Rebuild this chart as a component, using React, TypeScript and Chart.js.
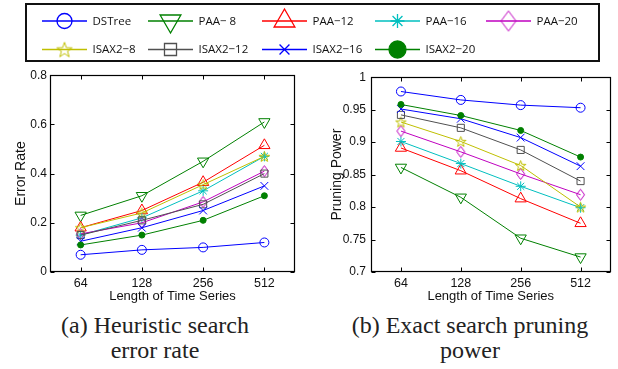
import React, { useEffect, useRef } from 'react';
import { Chart, registerables, PointElement } from 'chart.js';

Chart.register(...registerables);

// ---------- data ----------
const lengths = ['64', '128', '256', '512'];
const seriesNames = ['DSTree', 'PAA\u2212 8', 'PAA\u221212', 'PAA\u221216', 'PAA\u221220', 'ISAX2\u22128', 'ISAX2\u221212', 'ISAX2\u221216', 'ISAX2\u221220'];

// (a) Heuristic search error rate
const errDSTree = [0.07, 0.09, 0.10, 0.12];
const errPAA8 = [0.23, 0.31, 0.45, 0.61];
const errPAA12 = [0.18, 0.25, 0.365, 0.515];
const errPAA16 = [0.15, 0.22, 0.33, 0.47];
const errPAA20 = [0.155, 0.20, 0.285, 0.41];
const errISAX8 = [0.18, 0.24, 0.355, 0.47];
const errISAX12 = [0.15, 0.21, 0.275, 0.40];
const errISAX16 = [0.125, 0.18, 0.25, 0.35];
const errISAX20 = [0.11, 0.15, 0.21, 0.31];

// (b) Exact search pruning power
const prDSTree = [0.978, 0.965, 0.957, 0.953];
const prPAA8 = [0.861, 0.815, 0.752, 0.723];
const prPAA12 = [0.891, 0.856, 0.813, 0.775];
const prPAA16 = [0.901, 0.867, 0.832, 0.799];
const prPAA20 = [0.917, 0.885, 0.851, 0.819];
const prISAX8 = [0.931, 0.901, 0.864, 0.800];
const prISAX12 = [0.942, 0.922, 0.888, 0.840];
const prISAX16 = [0.951, 0.936, 0.907, 0.863];
const prISAX20 = [0.958, 0.941, 0.918, 0.877];

const errTicks = [0, 0.2, 0.4, 0.6, 0.8];
const errTickLabels = ['0', '0.2', '0.4', '0.6', '0.8'];
const prTicks = [0.7, 0.75, 0.8, 0.85, 0.9, 0.95, 1];
const prTickLabels = ['0.7', '0.75', '0.8', '0.85', '0.9', '0.95', '1'];

const errorRate = [errDSTree, errPAA8, errPAA12, errPAA16, errPAA20, errISAX8, errISAX12, errISAX16, errISAX20];
const pruning = [prDSTree, prPAA8, prPAA12, prPAA16, prPAA20, prISAX8, prISAX12, prISAX16, prISAX20];

// ---------- styles ----------
const colors = ['#0000FF', '#008000', '#FF0000', '#00BFBF', '#BF00BF', '#BFBF00', '#505050', '#0000FF', '#008000'];
const plotMarkers: any[] = [
  { style: 'circle', r: 4.5 },
  { style: 'triangle', r: 6.5, rot: 180 },
  { style: 'triangle', r: 6.5 },
  { style: 'star', r: 5 },
  { style: 'diamond', w: 8, h: 11 },
  { style: 'pentagram', r: 5.5 },
  { style: 'rect', r: 5 },
  { style: 'crossRot', r: 5.5 },
  { style: 'circle', r: 3, filled: true },
];
const legendMarkers: any[] = [
  { style: 'circle', r: 7.5 },
  { style: 'triangle', r: 12, rot: 180 },
  { style: 'triangle', r: 12 },
  { style: 'star', r: 7 },
  { style: 'diamond', w: 15, h: 20 },
  { style: 'pentagram', r: 8 },
  { style: 'rect', r: 8.5 },
  { style: 'crossRot', r: 7 },
  { style: 'circle', r: 8.5, filled: true },
];

const FONT = "'Liberation Sans', Arial, Helvetica, sans-serif";
const LEGEND_FONT = "'Open Sans', 'Noto Sans', sans-serif";
const TEXT = '#111';

function pentagramCanvas(R: number, color: string) {
  const s = Math.ceil(2 * R + 4);
  const c = document.createElement('canvas');
  c.width = s; c.height = s;
  const ctx = c.getContext('2d')!;
  ctx.strokeStyle = color; ctx.lineWidth = 1;
  ctx.beginPath();
  for (let i = 0; i < 10; i++) {
    const rad = i % 2 === 0 ? R : R * 0.4;
    const a = -Math.PI / 2 + (i * Math.PI) / 5;
    const x = s / 2 + rad * Math.cos(a);
    const y = s / 2 + rad * Math.sin(a) + R * 0.1;
    if (i === 0) ctx.moveTo(x, y); else ctx.lineTo(x, y);
  }
  ctx.closePath();
  ctx.stroke();
  return c;
}

function diamondCanvas(w: number, h: number, color: string) {
  const c = document.createElement('canvas');
  c.width = w + 3; c.height = h + 3;
  const ctx = c.getContext('2d')!;
  const cx = c.width / 2, cy = c.height / 2;
  ctx.strokeStyle = color; ctx.lineWidth = 1;
  ctx.beginPath();
  ctx.moveTo(cx, cy - h / 2);
  ctx.lineTo(cx + w / 2, cy);
  ctx.lineTo(cx, cy + h / 2);
  ctx.lineTo(cx - w / 2, cy);
  ctx.closePath();
  ctx.stroke();
  return c;
}

function markerOptions(m: any, color: string) {
  let pointStyle: any = m.style;
  let radius = m.r || 5;
  if (m.style === 'pentagram') pointStyle = pentagramCanvas(m.r, color);
  if (m.style === 'diamond') { pointStyle = diamondCanvas(m.w, m.h, color); radius = m.h / 2; }
  return {
    pointStyle,
    radius,
    rotation: m.rot || 0,
    borderWidth: 1,
    borderColor: color,
    backgroundColor: m.filled ? color : 'rgba(0,0,0,0)',
  };
}

function makeDataset(i: number, values: number[] | null) {
  const color = colors[i];
  const pm = markerOptions(plotMarkers[i], color);
  return {
    label: seriesNames[i],
    data: values ? values : [],
    borderColor: color,
    backgroundColor: pm.backgroundColor,
    borderWidth: 1,
    tension: 0,
    order: seriesNames.length - 1 - i,
    pointStyle: pm.pointStyle,
    pointRadius: pm.radius,
    pointRotation: pm.rotation,
    pointBorderWidth: 1,
    pointBorderColor: color,
    pointBackgroundColor: pm.backgroundColor,
    legendMarker: markerOptions(legendMarkers[i], color),
  };
}

const framePlugin = {
  id: 'matlabFrame',
  afterDatasetsDraw(chart: any) {
    const { ctx, chartArea } = chart;
    const L = Math.round(chartArea.left) + 0.5;
    const R = Math.round(chartArea.right) - 0.5;
    const T = Math.round(chartArea.top) + 0.5;
    const B = Math.round(chartArea.bottom) - 0.5;
    ctx.save();
    ctx.strokeStyle = '#000';
    ctx.lineWidth = 1.2;
    ctx.strokeRect(L, T, R - L, B - T);
    ctx.lineWidth = 1;
    const seg = (x1: number, y1: number, x2: number, y2: number) => {
      ctx.beginPath(); ctx.moveTo(x1, y1); ctx.lineTo(x2, y2); ctx.stroke();
    };
    const xs = chart.scales.x;
    xs.ticks.forEach((_t: any, i: number) => {
      const px = Math.round(xs.getPixelForTick(i)) + 0.5;
      seg(px, B, px, B - 4);
      seg(px, T, px, T + 4);
    });
    const ys = chart.scales.y;
    ys.ticks.forEach((t: any) => {
      const py = Math.round(ys.getPixelForValue(t.value)) + 0.5;
      seg(L, py, L + 4, py);
      seg(R, py, R - 4, py);
    });
    ctx.restore();
  },
};

const LEGEND_COLS = [42, 148, 262, 375, 486];
const LEGEND_ROWS = [21, 49.5];
const legendPlugin = {
  id: 'figLegend',
  afterDraw(chart: any) {
    const ctx = chart.ctx;
    const area = { left: 0, top: 0, right: chart.width, bottom: chart.height };
    ctx.save();
    ctx.fillStyle = '#fff';
    ctx.fillRect(26, 4, 573, 57);
    ctx.strokeStyle = '#111';
    ctx.lineWidth = 2;
    ctx.strokeRect(26, 4, 573, 57);
    chart.data.datasets.forEach((ds: any, i: number) => {
      const row = i < 5 ? 0 : 1;
      const col = i < 5 ? i : i - 5;
      const x0 = LEGEND_COLS[col];
      const y = LEGEND_ROWS[row];
      ctx.strokeStyle = ds.borderColor;
      ctx.lineWidth = 1.5;
      ctx.beginPath(); ctx.moveTo(x0, y); ctx.lineTo(x0 + 45, y); ctx.stroke();
      const pt: any = new PointElement({ x: x0 + 22.5, y, options: { ...ds.legendMarker, borderWidth: 1.3 } } as any);
      pt.draw(ctx, area);
      ctx.fillStyle = TEXT;
      ctx.font = `11.5px ${LEGEND_FONT}`;
      ctx.textBaseline = 'middle';
      ctx.textAlign = 'left';
      ctx.fillText(ds.label, x0 + 50.5, y + 0.5);
    });
    ctx.restore();
  },
};

function buildChart(canvas: HTMLCanvasElement, values: number[][], yTicks: number[], yTickLabels: string[], yTitle: string, cfg: any) {
  return new Chart(canvas, {
    type: 'line',
    data: { labels: lengths, datasets: values.map((v, i) => makeDataset(i, v)) as any },
    options: {
      responsive: false,
      animation: false,
      layout: { padding: cfg.padding },
      plugins: { legend: { display: false }, tooltip: { enabled: false }, title: { display: false } },
      scales: {
        x: {
          type: 'category',
          offset: true,
          grid: { display: false, drawTicks: false, tickLength: 0 },
          border: { display: false },
          ticks: { font: { family: FONT, size: 12.5 }, color: TEXT, padding: 4, maxRotation: 0, autoSkip: false },
          title: { display: true, text: 'Length of Time Series', font: { family: FONT, size: 13 }, color: TEXT, padding: { top: 0, bottom: 4 } },
          afterFit: (s: any) => { s.height = 36; },
        },
        y: {
          type: 'linear',
          min: yTicks[0],
          max: yTicks[yTicks.length - 1],
          grid: { display: false, drawTicks: false, tickLength: 0 },
          border: { display: false },
          afterBuildTicks: (s: any) => { s.ticks = yTicks.map((v) => ({ value: v })); },
          ticks: { font: { family: FONT, size: 12 }, color: TEXT, padding: cfg.tickPad, callback: (_v: any, i: number) => yTickLabels[i] },
          title: { display: true, text: yTitle, font: { family: FONT, size: 14 }, color: TEXT, padding: { top: cfg.titlePad, bottom: 0 } },
          afterFit: (s: any) => { s.width = cfg.axisWidth; },
        },
      },
    } as any,
    plugins: [framePlugin],
  });
}

export default function App() {
  const legendRef = useRef<HTMLCanvasElement>(null);
  const leftRef = useRef<HTMLCanvasElement>(null);
  const rightRef = useRef<HTMLCanvasElement>(null);

  useEffect(() => {
    const charts: Chart[] = [];
    if (legendRef.current) {
      charts.push(new Chart(legendRef.current, {
        type: 'line',
        data: { labels: [], datasets: seriesNames.map((_n, i) => makeDataset(i, null)) as any },
        options: {
          responsive: false,
          animation: false,
          plugins: { legend: { display: false }, tooltip: { enabled: false } },
          scales: { x: { display: false }, y: { display: false } },
        },
        plugins: [legendPlugin],
      }));
    }
    if (leftRef.current) {
      charts.push(buildChart(leftRef.current, errorRate, errTicks, errTickLabels, 'Error Rate', {
        padding: { top: 9, right: 15, bottom: 2, left: 0 }, axisWidth: 50, tickPad: 3, titlePad: 12.6,
      }));
    }
    if (rightRef.current) {
      charts.push(buildChart(rightRef.current, pruning, prTicks, prTickLabels, 'Pruning Power', {
        padding: { top: 9, right: 6, bottom: 2, left: 0 }, axisWidth: 61, tickPad: 5, titlePad: 18.6,
      }));
    }
    return () => charts.forEach((c) => c.destroy());
  }, []);

  const caption = (left: number, width: number): React.CSSProperties => ({
    position: 'absolute', left, top: 313, width, textAlign: 'center',
    fontFamily: "'Liberation Serif', 'Times New Roman', serif", fontSize: 24, lineHeight: '25px', color: '#222',
  });

  return (
    <div style={{ position: 'absolute', left: 0, top: 0, width: 618, height: 369, background: '#fff', overflow: 'hidden' }}>
      <canvas ref={legendRef} width={618} height={65} style={{ position: 'absolute', left: 0, top: 0 }} />
      <canvas ref={leftRef} width={310} height={245} style={{ position: 'absolute', left: 0, top: 65 }} />
      <canvas ref={rightRef} width={308} height={245} style={{ position: 'absolute', left: 310, top: 65 }} />
      <div style={caption(0, 310)}>(a) Heuristic search<br />error rate</div>
      <div style={caption(316, 308)}>(b) Exact search pruning<br />power</div>
    </div>
  );
}
